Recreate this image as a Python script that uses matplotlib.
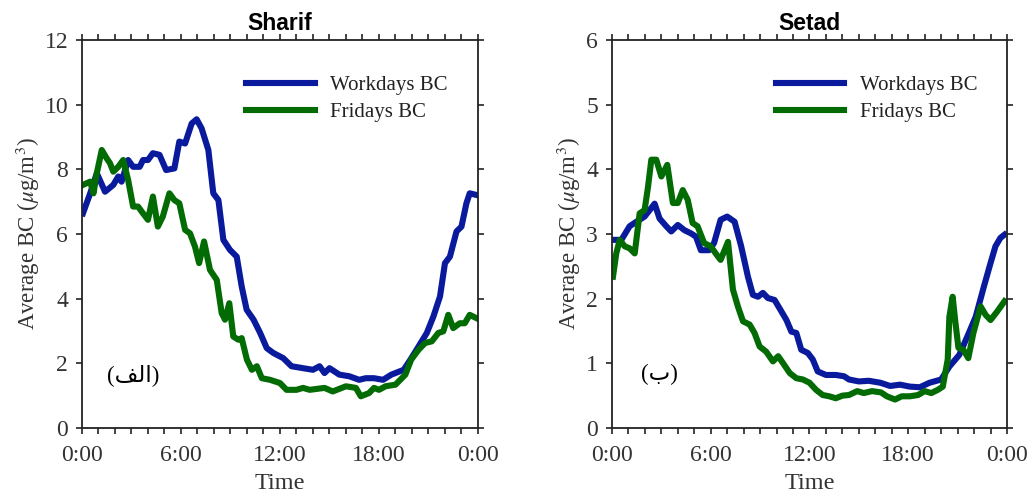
import matplotlib
matplotlib.use("Agg")
import matplotlib.pyplot as plt
from matplotlib.ticker import MultipleLocator, FixedLocator

plt.rcParams['font.family'] = ['Liberation Serif', 'DejaVu Sans']
plt.rcParams['mathtext.fontset'] = 'stix'

# ---------------- Sharif ----------------
sharif_work_h = [0.06, 0.5, 0.9, 1.4, 1.9, 2.2, 2.4, 2.8, 3.1, 3.5, 3.7, 4.0, 4.3, 4.7, 5.1, 5.6, 5.9,
                 6.25, 6.65, 6.95, 7.25, 7.66, 7.96, 8.27, 8.57, 8.97, 9.38, 9.68, 9.98, 10.4, 10.8,
                 11.2, 11.6, 12.2, 12.7, 13.4, 14.0, 14.4, 14.7, 15.0, 15.6, 16.2, 16.8, 17.2, 17.7,
                 18.25, 18.75, 19.5, 19.9, 20.4, 20.9, 21.3, 21.7, 22.0, 22.3, 22.7, 23.0, 23.3, 23.5, 23.9]
sharif_work_v = [6.64, 7.26, 7.88, 7.31, 7.52, 7.78, 7.62, 8.29, 8.08, 8.08, 8.29, 8.29, 8.50, 8.45, 7.98,
                 8.03, 8.86, 8.80, 9.42, 9.55, 9.27, 8.60, 7.26, 7.05, 5.82, 5.51, 5.30, 4.38, 3.66,
                 3.35, 2.94, 2.47, 2.32, 2.16, 1.91, 1.85, 1.80, 1.91, 1.70, 1.85, 1.65, 1.60, 1.49,
                 1.54, 1.54, 1.49, 1.65, 1.80, 2.11, 2.52, 2.94, 3.45, 4.07, 5.10, 5.30, 6.08, 6.23,
                 6.95, 7.26, 7.21]

sharif_fri_h = [0.06, 0.5, 0.7, 0.9, 1.2, 1.5, 1.7, 1.9, 2.2, 2.5, 2.8, 3.1, 3.4, 3.7, 4.0, 4.3, 4.6,
                4.9, 5.3, 5.6, 5.9, 6.25, 6.55, 6.85, 7.1, 7.4, 7.76, 8.17, 8.47, 8.67, 8.93, 9.17,
                9.48, 9.68, 10.0, 10.3, 10.6, 10.9, 11.4, 12.0, 12.4, 13.0, 13.4, 13.8, 14.7, 15.2,
                16.0, 16.6, 16.9, 17.4, 17.7, 18.0, 18.4, 19.0, 19.6, 19.95, 20.4, 20.8, 21.2, 21.6,
                21.9, 22.2, 22.5, 22.9, 23.2, 23.5, 23.9]
sharif_fri_v = [7.52, 7.62, 7.26, 7.88, 8.60, 8.34, 8.19, 7.93, 8.08, 8.29, 7.67, 6.85, 6.85, 6.64, 6.44,
                7.16, 6.23, 6.54, 7.26, 7.05, 6.95, 6.13, 6.02, 5.61, 5.10, 5.77, 4.89, 4.58, 3.55,
                3.35, 3.86, 2.83, 2.73, 2.78, 2.11, 1.80, 1.91, 1.54, 1.49, 1.39, 1.18, 1.18, 1.24,
                1.18, 1.24, 1.13, 1.29, 1.24, 0.98, 1.08, 1.24, 1.18, 1.29, 1.34, 1.65, 2.11, 2.42,
                2.63, 2.68, 2.94, 2.99, 3.50, 3.09, 3.24, 3.24, 3.50, 3.40]

# ---------------- Setad ----------------
setad_work_h = [0.06, 0.57, 1.07, 1.48, 1.98, 2.29, 2.59, 2.89, 3.3, 3.6, 4.0, 4.4, 4.8, 5.1, 5.4, 5.9,
                6.2, 6.6, 7.0, 7.45, 7.85, 8.26, 8.56, 8.87, 9.17, 9.47, 9.88, 10.3, 10.6, 10.9, 11.2,
                11.5, 11.9, 12.2, 12.5, 13.0, 13.6, 14.1, 14.4, 15.0, 15.6, 16.3, 16.9, 17.5, 18.1,
                18.7, 19.3, 20.0, 20.5, 21.1, 21.6, 22.1, 22.6, 23.0, 23.3, 23.6, 23.85]
setad_work_v = [2.91, 2.91, 3.12, 3.19, 3.27, 3.37, 3.47, 3.24, 3.12, 3.04, 3.14, 3.06, 3.01, 2.96, 2.75,
                2.75, 2.86, 3.22, 3.27, 3.19, 2.81, 2.34, 2.06, 2.03, 2.09, 2.01, 1.98, 1.80, 1.67,
                1.49, 1.47, 1.21, 1.16, 1.06, 0.875, 0.82, 0.82, 0.80, 0.75, 0.72, 0.73, 0.70, 0.65,
                0.67, 0.64, 0.63, 0.70, 0.75, 0.95, 1.13, 1.42, 1.72, 2.19, 2.55, 2.81, 2.94, 2.99]

setad_fri_h = [0.06, 0.26, 0.47, 0.77, 1.07, 1.38, 1.68, 1.98, 2.19, 2.39, 2.69, 3.0, 3.36, 3.7, 4.0,
               4.3, 4.6, 4.9, 5.2, 5.6, 6.0, 6.3, 6.6, 7.05, 7.35, 7.65, 7.96, 8.36, 8.66, 8.97, 9.37,
               9.78, 10.1, 10.4, 10.8, 11.2, 11.6, 12.0, 12.4, 12.8, 13.2, 13.6, 14.0, 14.4, 14.9,
               15.3, 15.8, 16.35, 16.7, 17.2, 17.6, 18.1, 18.6, 19.0, 19.4, 19.8, 20.1, 20.4, 20.5,
               20.7, 20.85, 21.05, 21.35, 21.65, 21.96, 22.4, 22.7, 23.0, 23.4, 23.85]
setad_fri_v = [2.34, 2.70, 2.91, 2.81, 2.78, 2.70, 3.32, 3.37, 3.73, 4.15, 4.15, 3.89, 4.07, 3.48, 3.48,
               3.68, 3.53, 3.17, 3.12, 2.86, 2.81, 2.70, 2.60, 2.88, 2.14, 1.88, 1.65, 1.60, 1.47,
               1.26, 1.18, 1.03, 1.11, 1.00, 0.85, 0.77, 0.75, 0.70, 0.59, 0.51, 0.49, 0.46, 0.50,
               0.51, 0.57, 0.54, 0.57, 0.55, 0.49, 0.44, 0.49, 0.49, 0.51, 0.57, 0.54, 0.59, 0.64,
               1.06, 1.72, 2.03, 1.67, 1.24, 1.21, 1.08, 1.47, 1.88, 1.75, 1.67, 1.80, 1.96]

titles = ['Sharif', 'Setad']
ylims = [12, 6]
ystep = [2, 1]
panel_labels = ['(\uFED2\uFEDF\uFE8D)', '(\uFE8F)']
xtick_pos = [0, 6, 12, 18, 24]
xtick_labels = ['0:00', '6:00', '12:00', '18:00', '0:00']
series_names = ['Workdays BC', 'Fridays BC']

blue = '#0a1a9c'
green = '#036b03'

fig = plt.figure(figsize=(10.27, 4.95), dpi=100)
axes = [fig.add_axes([0.0798, 0.1354, 0.3856, 0.7836]),
        fig.add_axes([0.5959, 0.1354, 0.3846, 0.7836])]

data = [((sharif_work_h, sharif_work_v), (sharif_fri_h, sharif_fri_v)),
        ((setad_work_h, setad_work_v), (setad_fri_h, setad_fri_v))]

for i, ax in enumerate(axes):
    (wh, wv), (fh, fv) = data[i]
    ax.plot(wh, wv, color=blue, lw=4.4, label=series_names[0], solid_joinstyle='round')
    ax.plot(fh, fv, color=green, lw=4.4, label=series_names[1], solid_joinstyle='round')
    ax.set_xlim(0, 24)
    ax.set_ylim(0, ylims[i])
    ax.xaxis.set_major_locator(FixedLocator(xtick_pos))
    ax.set_xticklabels(xtick_labels)
    ax.xaxis.set_minor_locator(MultipleLocator(1))
    ax.yaxis.set_major_locator(MultipleLocator(ystep[i]))
    ax.tick_params(which='both', direction='out', length=4, width=1.2, top=True, right=True,
                   colors='#222222')
    ax.tick_params(axis='x', which='major', labelsize=17, labelcolor='#333333', pad=8)
    ax.tick_params(axis='y', which='major', labelsize=17, labelcolor='#333333', pad=6)
    for s in ax.spines.values():
        s.set_linewidth(1.3)
        s.set_color('#222222')
    ax.set_title(titles[i], fontsize=16.5, fontweight='bold', family='Liberation Sans', pad=7)
    ax.set_xlabel('Time', fontsize=17.5, color='#333333', labelpad=5)
    ax.set_ylabel(r'Average BC ($\mu$g/m$^3$)', fontsize=16.5, color='#333333', labelpad=2)
    ax.text(0.129 if i == 0 else 0.119, 0.137, panel_labels[i], transform=ax.transAxes,
            ha='center', va='center', fontsize=16.5, family=['Liberation Serif', 'DejaVu Sans'])
    leg = ax.legend(loc='upper left', bbox_to_anchor=(0.393, 0.93), frameon=False, fontsize=15,
                    handlelength=3.3, handletextpad=0.75, labelspacing=0.35, borderaxespad=0)
    for t in leg.get_texts():
        t.set_color('#222222')

fig.savefig('out.png', dpi=100)
